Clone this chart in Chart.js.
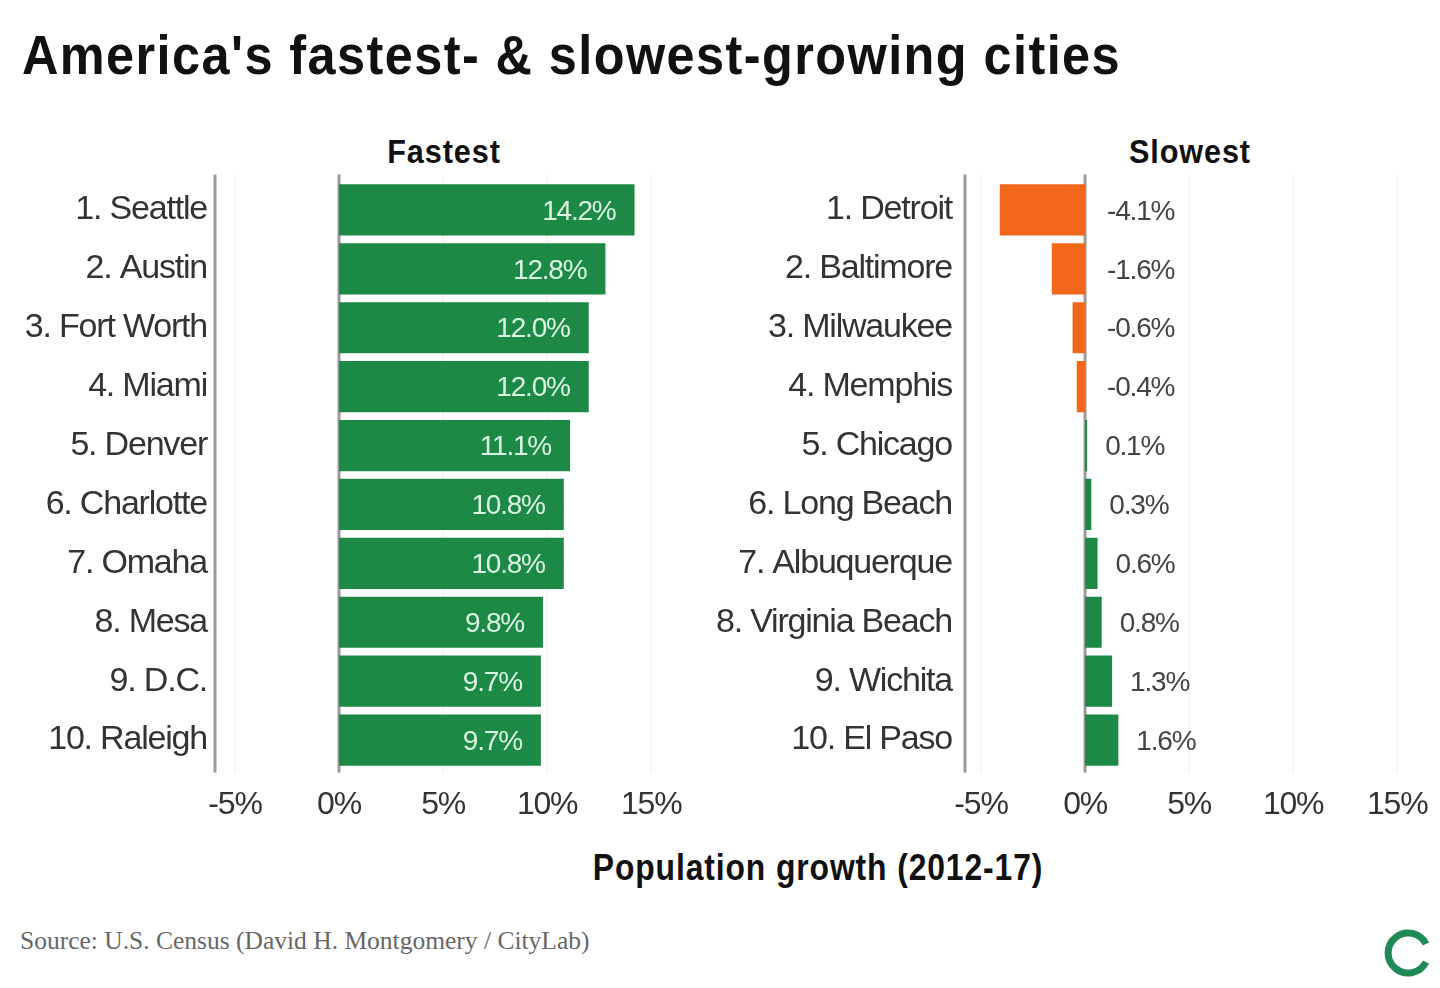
<!DOCTYPE html>
<html>
<head>
<meta charset="utf-8">
<title>America's fastest- & slowest-growing cities</title>
<script src="https://cdn.jsdelivr.net/npm/chart.js@4"></script>
<style>
    html, body { margin: 0; padding: 0; background: #fff; }
    body { width: 1440px; height: 988px; position: relative; overflow: hidden; }
    canvas { position: absolute; top: 0; }
    .txt { position: absolute; white-space: nowrap; color: #111; font-family: "Liberation Sans", sans-serif; }
    #title { left: 22px; top: 22px; font-size: 56px; line-height: 66px; font-weight: bold; letter-spacing: 1.6px; transform: scaleX(0.9); transform-origin: left; }
    .head { top: 131px; font-size: 34px; line-height: 40px; font-weight: bold; transform: translateX(-50%) scaleX(0.9); letter-spacing: 1px; }
    #xTitle { left: 818px; top: 847px; font-size: 36px; line-height: 42px; font-weight: bold; transform: translateX(-50%) scaleX(0.885); letter-spacing: 1px; }
    #source { left: 20px; top: 928px; font-family: "Liberation Serif", serif; font-size: 25.5px; line-height: 26px; color: #666; }
    #logo { position: absolute; left: 1382px; top: 926px; }
</style>
</head>
<body>
<div class="txt" id="title">America's fastest- &amp; slowest-growing cities</div>
<div class="txt head" style="left:444px">Fastest</div>
<div class="txt head" style="left:1190px">Slowest</div>
<canvas id="fastestChart" width="700" height="830" style="left:0"></canvas>
<canvas id="slowestChart" width="750" height="830" style="left:690px"></canvas>
<div class="txt" id="xTitle">Population growth (2012-17)</div>
<div class="txt" id="source">Source: U.S. Census (David H. Montgomery / CityLab)</div>
<svg id="logo" width="56" height="58" viewBox="0 0 56 58">
    <path d="M44 18 A20 20 0 1 0 44 36" fill="none" stroke="#1f8a55" stroke-width="7"/>
</svg>
<script>
const fastestCities = ['1. Seattle', '2. Austin', '3. Fort Worth', '4. Miami', '5. Denver', '6. Charlotte', '7. Omaha', '8. Mesa', '9. D.C.', '10. Raleigh'];
const fastestValues = [14.2, 12.8, 12.0, 12.0, 11.1, 10.8, 10.8, 9.8, 9.7, 9.7];
const slowestCities = ['1. Detroit', '2. Baltimore', '3. Milwaukee', '4. Memphis', '5. Chicago', '6. Long Beach', '7. Albuquerque', '8. Virginia Beach', '9. Wichita', '10. El Paso'];
const slowestValues = [-4.1, -1.6, -0.6, -0.4, 0.1, 0.3, 0.6, 0.8, 1.3, 1.6];
const xTickValues = [-5, 0, 5, 10, 15];

const sans = '"Liberation Sans", sans-serif';
const green = '#1c8a45';
const orange = '#f2681a';

// axis lines run a little past the bands, so they are drawn here and not by the scale
const axisLines = {
    id: 'axisLines',
    beforeDraw(chart) {
        // no narrow font installed, tighten the letters instead
        chart.ctx.letterSpacing = '-1.2px';
    },
    beforeDatasetsDraw(chart) {
        const { ctx, chartArea, scales } = chart;
        const top = chartArea.top - 6, bottom = chartArea.bottom + 3;
        ctx.save();
        xTickValues.forEach(v => {
            if (v === 0) return;
            ctx.strokeStyle = '#f6f6f6';
            ctx.lineWidth = 2;
            const x = scales.x.getPixelForValue(v);
            ctx.beginPath(); ctx.moveTo(x, top); ctx.lineTo(x, bottom); ctx.stroke();
        });
        ctx.strokeStyle = '#9a9a9a';
        ctx.lineWidth = 3;
        [chartArea.left, scales.x.getPixelForValue(0)].forEach(x => {
            ctx.beginPath(); ctx.moveTo(x, top); ctx.lineTo(x, bottom); ctx.stroke();
        });
        ctx.restore();
    }
};

const valueLabels = {
    id: 'valueLabels',
    afterDatasetsDraw(chart, args, opts) {
        const { ctx, scales } = chart;
        const zero = scales.x.getPixelForValue(0);
        ctx.save();
        ctx.font = '28px ' + sans;
        ctx.textBaseline = 'middle';
        chart.getDatasetMeta(0).data.forEach((bar, i) => {
            const v = chart.data.datasets[0].data[i];
            const text = v.toFixed(1) + '%';
            if (opts.inside) {
                ctx.fillStyle = '#dcf6e4';
                ctx.textAlign = 'right';
                ctx.fillText(text, bar.x - 19, bar.y + 2);
            } else {
                ctx.fillStyle = '#444';
                ctx.textAlign = 'left';
                ctx.fillText(text, v < 0 ? zero + 22 : bar.x + 18, bar.y + 2);
            }
        });
        ctx.restore();
    }
};

function makeChart(id, cities, values, opt) {
    return new Chart(document.getElementById(id).getContext('2d'), {
        type: 'bar',
        data: {
            labels: cities,
            datasets: [{
                data: values,
                backgroundColor: values.map(v => v < 0 ? orange : green),
                categoryPercentage: 1,
                barPercentage: 0.87
            }]
        },
        plugins: [axisLines, valueLabels],
        options: {
            indexAxis: 'y',
            responsive: false,
            animation: false,
            layout: { padding: { top: 180.5, right: opt.right, left: 0, bottom: 0 } },
            plugins: {
                legend: { display: false },
                tooltip: { enabled: false },
                valueLabels: { inside: opt.inside }
            },
            scales: {
                x: {
                    type: 'linear',
                    min: opt.min,
                    max: 16,
                    afterBuildTicks: s => { s.ticks = xTickValues.map(v => ({ value: v })); },
                    afterFit: s => { s.height = 60.5; },
                    grid: { display: false },
                    border: { display: false },
                    ticks: {
                        callback: v => v + '%',
                        color: '#333',
                        font: { family: sans, size: 32 },
                        maxRotation: 0,
                        autoSkip: false,
                        padding: 8
                    }
                },
                y: {
                    afterFit: s => { s.width = opt.axisWidth; },
                    grid: { display: false },
                    border: { display: false },
                    ticks: {
                        color: '#333',
                        font: { family: sans, size: 34 },
                        autoSkip: false,
                        padding: opt.labelGap
                    }
                }
            }
        }
    });
}

makeChart('fastestChart', fastestCities, fastestValues, { min: -5.96, right: 28, axisWidth: 215, labelGap: 0, inside: true });
makeChart('slowestChart', slowestCities, slowestValues, { min: -5.77, right: 22, axisWidth: 275, labelGap: 5, inside: false });
</script>
</body>
</html>
